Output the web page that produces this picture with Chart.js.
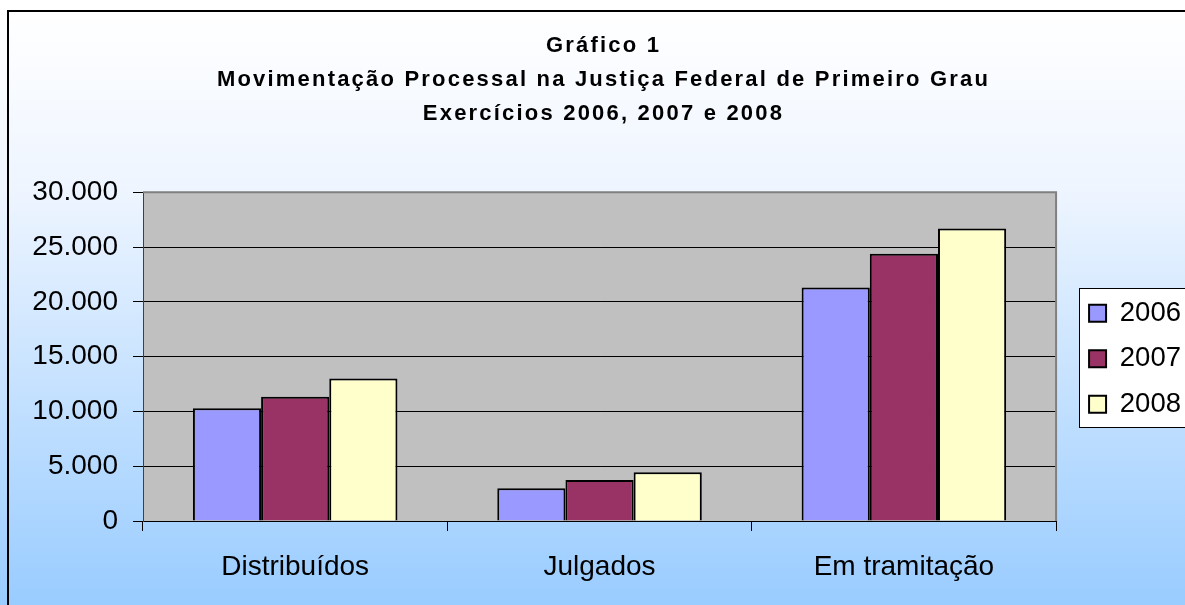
<!DOCTYPE html>
<html>
<head>
<meta charset="utf-8">
<script src="https://cdn.jsdelivr.net/npm/chart.js@4"></script>
<style>
  body { margin: 0; background: #fff; }
</style>
</head>
<body>
<canvas id="grafico1" width="1185" height="605"></canvas>
<script>
var categorias = [ "Distribuídos", "Julgados", "Em tramitação" ];
var anos = [ "2006", "2007", "2008" ];
var valores2006 = [ 10300, 3000, 21300 ];
var valores2007 = [ 11350, 3750, 24400 ];
var valores2008 = [ 13000, 4450, 26700 ];
var cores = [ "#9999ff", "#993366", "#ffffcc" ];
var titulo = [
    "Gráfico 1",
    "Movimentação Processal na Justiça Federal de Primeiro Grau",
    "Exercícios 2006, 2007 e 2008"
];

var fonte = "'Liberation Sans', Arial, sans-serif";
Chart.defaults.font.family = fonte;
Chart.defaults.color = "#000";

function milhar( v ) {
    return String( v ).replace( /\B(?=(\d{3})+(?!\d))/g, "." );
}

// fundo em degradê, moldura, área de plotagem cinza e caixa da legenda
var fundo = {
    id: "fundo",
    afterLayout: function( chart ) {
        // legenda centrada na altura da área de plotagem
        var lg = chart.legend, a = chart.chartArea;
        lg.top = a.top + 2;
        lg.bottom = a.bottom + 2;
        lg.height = lg.bottom - lg.top;
    },
    beforeDraw: function( chart ) {
        var c = chart.ctx, a = chart.chartArea;
        c.save();
        var g = c.createLinearGradient( 0, 11, 0, 605 );
        g.addColorStop( 0, "#ffffff" );
        g.addColorStop( 0.3, "#eef5ff" );
        g.addColorStop( 1, "#99ccff" );
        c.fillStyle = g;
        c.fillRect( 0, 0, chart.width, chart.height );
        c.strokeStyle = "#000";
        c.lineWidth = 2;
        c.strokeRect( 8, 11, chart.width + 20, chart.height + 20 );

        c.fillStyle = "#c0c0c0";
        c.fillRect( a.left, a.top, a.right - a.left, a.bottom - a.top );

        var lg = chart.legend, hb = lg.legendHitBoxes;
        if ( hb && hb.length ) {
            var x0 = Math.round( lg.left + 8 ) + 0.5;
            var y0 = Math.round( hb[0].top - 11 ) + 0.5;
            var y1 = Math.round( hb[hb.length - 1].top + hb[hb.length - 1].height + 9 ) + 0.5;
            c.fillStyle = "#fff";
            c.fillRect( x0, y0, chart.width, y1 - y0 );
            c.strokeStyle = "#000";
            c.lineWidth = 1;
            c.strokeRect( x0, y0, chart.width, y1 - y0 );
        }
        c.restore();
    },
    beforeDatasetsDraw: function( chart ) {
        // borda cinza do topo e da direita da área de plotagem
        var c = chart.ctx, a = chart.chartArea;
        c.save();
        c.strokeStyle = "#808080";
        c.lineWidth = 2;
        c.beginPath();
        c.moveTo( a.left, a.top );
        c.lineTo( a.right, a.top );
        c.lineTo( a.right, a.bottom );
        c.stroke();
        c.restore();
    }
};

var ctx = document.getElementById( "grafico1" );
var myChart = new Chart( ctx, {
    type: "bar",
    data: {
        labels: categorias,
        datasets: [
            { label: anos[0], data: valores2006, backgroundColor: cores[0] },
            { label: anos[1], data: valores2007, backgroundColor: cores[1] },
            { label: anos[2], data: valores2008, backgroundColor: cores[2] }
        ]
    },
    options: {
        responsive: false,
        animation: false,
        layout: { padding: { left: 0, right: -6, top: 0, bottom: 0 } },
        datasets: {
            bar: {
                borderColor: "#000",
                borderWidth: 2,
                categoryPercentage: 0.672,
                barPercentage: 1
            }
        },
        plugins: {
            title: {
                display: true,
                text: titulo,
                color: "#000",
                font: { size: 22, weight: "bold", lineHeight: 1.55 },
                padding: { top: 29, bottom: 61 }
            },
            legend: {
                position: "right",
                labels: {
                    color: "#000",
                    font: { size: 27.5 },
                    boxWidth: 17,
                    boxHeight: 17,
                    padding: 18
                }
            },
            tooltip: { enabled: false }
        },
        scales: {
            x: {
                offset: true,
                grid: {
                    offset: true,
                    drawOnChartArea: false,
                    color: "#000",
                    tickLength: 10
                },
                border: { color: "#000", width: 1 },
                ticks: { font: { size: 28 }, padding: 19, maxRotation: 0, autoSkip: false },
                afterFit: function( s ) { s.height = 84; }
            },
            y: {
                min: 0,
                max: 30000,
                grid: { color: "#000", tickLength: 10 },
                border: { color: "#404040", width: 1 },
                ticks: {
                    stepSize: 5000,
                    font: { size: 28 },
                    padding: 15,
                    callback: function( v ) { return milhar( v ); }
                },
                afterFit: function( s ) { s.width = 143; }
            },
            folga: {
                type: "linear",
                position: "right",
                display: true,
                grid: { display: false, drawTicks: false },
                border: { display: false },
                ticks: { display: false },
                afterFit: function( s ) { s.width = 15; }
            }
        }
    },
    plugins: [ fundo ]
} );

// título com espaçamento entre letras, como no original
var desenhaTitulo = myChart.titleBlock.draw;
myChart.titleBlock.draw = function() {
    this.ctx.save();
    this.ctx.letterSpacing = "2.2px";
    this.ctx.translate( 8, 0 );
    desenhaTitulo.apply( this, arguments );
    this.ctx.restore();
};
myChart.draw();
</script>
</body>
</html>
